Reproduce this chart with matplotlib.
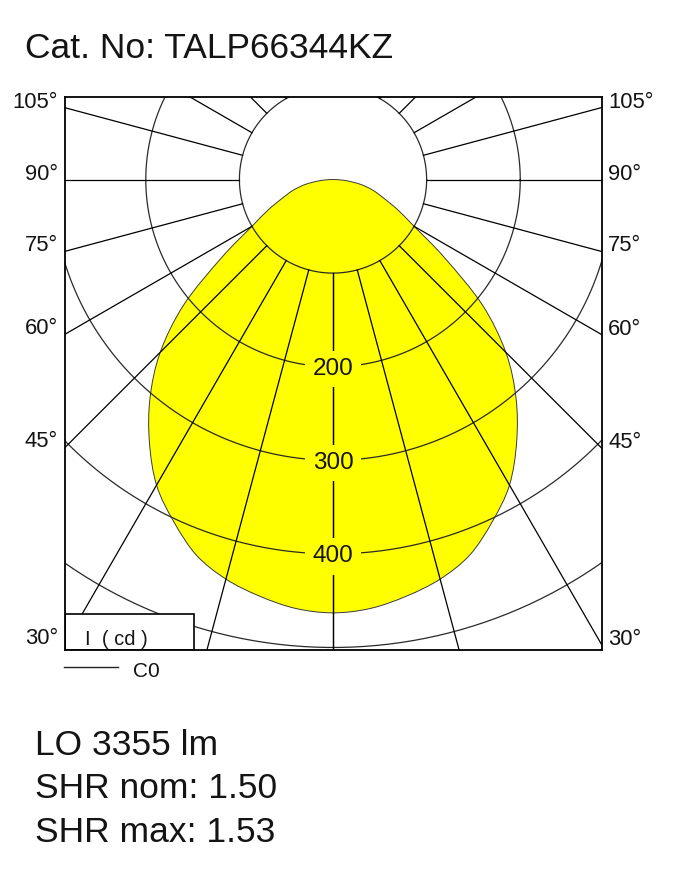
import numpy as np
import matplotlib
matplotlib.use('Agg')
import matplotlib.pyplot as plt
from matplotlib.patches import Rectangle, PathPatch
from matplotlib.path import Path
from matplotlib.lines import Line2D

plt.rcParams['font.family'] = ['Liberation Sans', 'DejaVu Sans']

# C0 luminous intensity (cd) vs angle from nadir (deg), symmetric
angles = [0, 5, 10, 15, 20, 25, 30, 35, 40, 45, 50, 55, 60, 65, 70, 75, 80, 85, 90]
intensity = [463, 460, 452, 442, 427, 403, 377, 342, 304, 261, 208, 145, 100, 76, 57, 44, 30, 14, 0]

rings = [100, 200, 300, 400, 500]
ring_labels = [200, 300, 400]
spokes = [0, 15, 30, 45, 60, 75, 90, 105, 120, 135, 150, 165, 180]
angle_ticks = [30, 45, 60, 75, 90, 105]

title = 'Cat. No: TALP66344KZ'
info_lines = ['LO 3355 lm', 'SHR nom: 1.50', 'SHR max: 1.53']
txt_col = '#141414'

W, H = 683, 893
fig = plt.figure(figsize=(W / 100, H / 100), dpi=100)

# plot box in pixels
bx0, bx1, by0, by1 = 65, 601.7, 96.7, 650
ax = fig.add_axes([bx0 / W, 1 - by1 / H, (bx1 - bx0) / W, (by1 - by0) / H])
xmin, xmax, ymin, ymax = -286.3, 287.0, -502.7, 88.5
ax.set_xlim(xmin, xmax)
ax.set_ylim(ymin, ymax)
ax.set_xticks([])
ax.set_yticks([])
for s in ax.spines.values():
    s.set_linewidth(1.3)
    s.set_color('black')
    s.set_zorder(6)
px = (bx1 - bx0) / (xmax - xmin)  # pixels per cd

# yellow distribution (mirror C0 on both sides), drawn as a smooth closed curve
th = np.radians(angles)
I = np.array(intensity, dtype=float)
xr = I * np.sin(th)
yr = -I * np.cos(th)
xs = np.concatenate([-xr[::-1], xr[1:-1]])
ys = np.concatenate([yr[::-1], yr[1:-1]])
pts = np.column_stack([xs, ys])
n = len(pts)
verts = [pts[0]]
codes = [Path.MOVETO]
for i in range(n):
    p0, p1, p2, p3 = pts[i - 1], pts[i], pts[(i + 1) % n], pts[(i + 2) % n]
    verts += [p1 + (p2 - p0) / 6, p2 - (p3 - p1) / 6, p2]
    codes += [Path.CURVE4] * 3
ax.add_patch(PathPatch(Path(verts, codes), facecolor='#ffff00', edgecolor='#3a3a3a',
                       linewidth=0.7, zorder=1))

# grid
t = np.linspace(0, 2 * np.pi, 720)
for r in rings:
    ax.plot(r * np.cos(t), r * np.sin(t), color='#2a2a2a', lw=0.9, zorder=2)
for a in spokes:
    ar = np.radians(a)
    for sgn in (-1, 1):
        ax.plot([sgn * 100 * np.sin(ar), sgn * 800 * np.sin(ar)],
                [-100 * np.cos(ar), -800 * np.cos(ar)], color='black', lw=0.9, zorder=2)

for r in ring_labels:
    ax.text(0, -r, str(r), ha='center', va='center_baseline', fontsize=17.5, color=txt_col,
            zorder=3, bbox=dict(boxstyle='square,pad=0.3', facecolor='#ffff00', edgecolor='none'))

# angle labels at the box edges
for a in angle_ticks:
    ar = np.radians(a)
    yl = -abs(xmin) * np.cos(ar) / np.sin(ar)
    yr_ = -abs(xmax) * np.cos(ar) / np.sin(ar)
    ax.text(xmin - 7.0 / px, yl, f'{a}°', ha='right', va='baseline', fontsize=15.8,
            color=txt_col, clip_on=False)
    ax.text(xmax + 6.3 / px, yr_, f'{a}°', ha='left', va='baseline', fontsize=15.8,
            color=txt_col, clip_on=False)

# unit box
ax.add_patch(Rectangle((xmin, ymin), 129 / px, 36 / px, facecolor='white',
                       edgecolor='black', lw=1.2, zorder=5))
ax.text(xmin + 20 / px, ymin + 5 / px, 'I  ( cd )', ha='left', va='baseline',
        fontsize=14.5, color=txt_col, zorder=6)

# legend
fig.add_artist(Line2D([64.3 / W, 118.3 / W], [1 - 666.7 / H, 1 - 666.7 / H],
                      color='#222222', lw=1.0))
fig.text(132.5 / W, 1 - 676.7 / H, 'C0', ha='left', va='baseline', fontsize=15, color=txt_col)

fig.text(25 / W, 1 - 58.3 / H, title, ha='left', va='baseline', fontsize=25.5, color=txt_col)
for i, line in enumerate(info_lines):
    fig.text(35 / W, 1 - (755 + 43.3 * i) / H, line, ha='left', va='baseline',
             fontsize=25.5, color=txt_col)

fig.savefig('out.png', dpi=100)
